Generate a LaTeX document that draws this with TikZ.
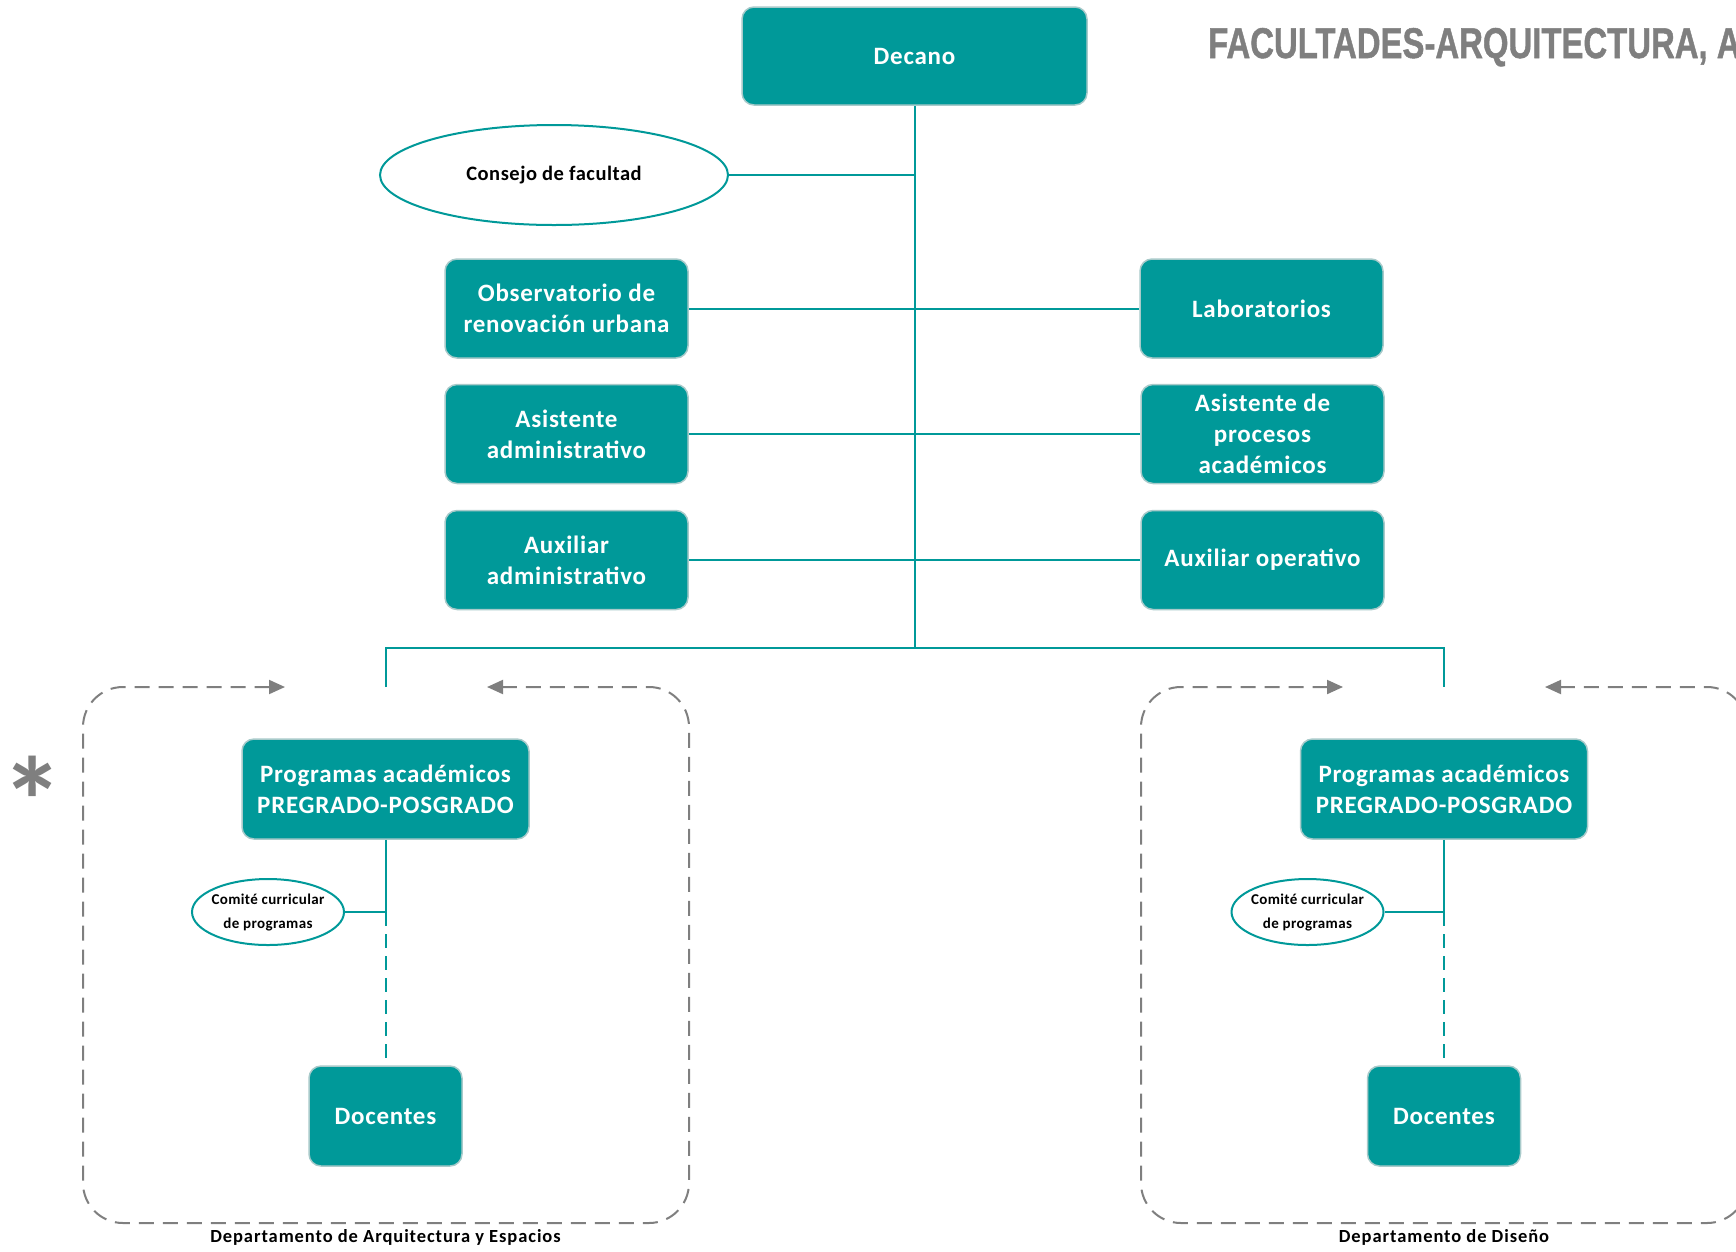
\documentclass[tikz,border=0pt]{standalone}
\usepackage{fontspec}
\setmainfont{Carlito}
\newfontfamily\boxfont[LetterSpace=3]{Carlito}
\newfontfamily\ovalfont[LetterSpace=2.5]{Carlito}
\newfontfamily\deptfont[LetterSpace=5]{Carlito}
\newfontfamily\titlefont[BoldFeatures={FakeBold=1.2}]{Liberation Sans}
\usepackage{tikz}
\usetikzlibrary{arrows.meta, shapes.geometric}
\definecolor{orgteal}{HTML}{009999}
\definecolor{orgedge}{HTML}{A8CACA}
\definecolor{framegray}{HTML}{7F7F7F}
\tikzset{every node/.append style={font=\bfseries}}
\tikzset{
  unit/.style={draw=orgedge, line width=1.5pt, fill=orgteal, rounded corners=12pt,
    text=white, align=center, inner sep=0pt, font=\boxfont\bfseries\fontsize{25}{31}\selectfont},
  council/.style={ellipse, draw=orgteal, line width=2pt, fill=white, align=center, inner sep=0pt},
  link/.style={orgteal, line width=2pt},
  linkdash/.style={link, dash pattern=on 14pt off 8pt},
  deptframe/.style={framegray, line width=2pt, dash pattern=on 15pt off 9pt, rounded corners=40pt,
    {Triangle[length=16pt,width=14pt]}-{Triangle[length=16pt,width=14pt]}},
  deptlabel/.style={font=\deptfont\bfseries\fontsize{18.5}{23}\selectfont, inner sep=0pt}
}

\begin{document}
\begin{tikzpicture}[x=1pt, y=-1pt]
    \useasboundingbox (0,0) rectangle (1736,1251);
    \clip (0,0) rectangle (1736,1251);

    % title and mark
    \node[anchor=base west, inner sep=0pt, text=framegray] (title) at (1208,58)
        {\titlefont\bfseries\fontsize{43}{43}\selectfont\scalebox{0.765}[1]{FACULTADES-ARQUITECTURA, A}};
    \node[anchor=base, inner sep=0pt, text=framegray, font=\bfseries\fontsize{125}{125}\selectfont] (mark) at (33,845) {*};

    % top of the chart
    \node[unit, minimum width=345pt, minimum height=98pt] (decano) at (914.5,56) {Decano};
    \node[council, minimum width=348pt, minimum height=100pt, font=\ovalfont\bfseries\fontsize{20.5}{24}\selectfont]
        (consejo) at (554,175) {Consejo de facultad};
    \node[unit, minimum width=243pt, minimum height=99pt] (obs) at (566.5,308.5) {Observatorio de\\renovación urbana};
    \node[unit, minimum width=243pt, minimum height=99pt] (lab) at (1261.5,308.5) {Laboratorios};
    \node[unit, minimum width=243pt, minimum height=99pt] (asadm) at (566.5,434) {Asistente\\administrativo};
    \node[unit, minimum width=243pt, minimum height=99pt] (asac) at (1262.5,434) {Asistente de\\procesos\\académicos};
    \node[unit, minimum width=243pt, minimum height=99pt] (auxadm) at (566.5,560) {Auxiliar\\administrativo};
    \node[unit, minimum width=243pt, minimum height=99pt] (auxop) at (1262.5,560) {Auxiliar operativo};

    \coordinate (bus) at (914.5,648);
    \coordinate (dropL) at (385.5,687);
    \coordinate (dropR) at (1444,687);

    \draw[link] (decano.south) -- (bus);
    \draw[link] (consejo.east) -- (consejo.east -| decano.south);
    \draw[link] (obs.east) -- (lab.west);
    \draw[link] (asadm.east) -- (asac.west);
    \draw[link] (auxadm.east) -- (auxop.west);
    \draw[link] (dropL) |- (bus) -| (dropR);

    % departments
    \draw[deptframe] (285,687) -- (83,687) -- (83,1223) -- (689,1223) -- (689,687) -- (487,687);
    \draw[deptframe] (1343,687) -- (1141,687) -- (1141,1223) -- (1747,1223) -- (1747,687) -- (1545,687);

    \foreach \side/\cx/\ex in {L/385.5/268, R/1444/1307.5} {
        \node[unit, minimum width=287pt, minimum height=100pt] (prog\side) at (\cx,789)
            {Programas académicos\\PREGRADO-POSGRADO};
        \node[council, inner sep=-5pt, minimum width=152pt, minimum height=66pt,
            font=\ovalfont\bfseries\fontsize{15}{24}\selectfont]
            (com\side) at (\ex,912) {Comité curricular\\de programas};
        \node[unit, minimum width=153pt, minimum height=100pt] (doc\side) at (\cx,1116) {Docentes};
        \coordinate (knot\side) at (com\side.east -| prog\side.south);
        \draw[link] (prog\side.south) -- (knot\side);
        \draw[link] (com\side.east) -- (knot\side);
        \draw[linkdash] (knot\side) -- (doc\side.north);
    }

    \node[deptlabel] (deptL) at (385.5,1237) {Departamento de Arquitectura y Espacios};
    \node[deptlabel] (deptR) at (1444,1237) {Departamento de Diseño};
\end{tikzpicture}
\end{document}
